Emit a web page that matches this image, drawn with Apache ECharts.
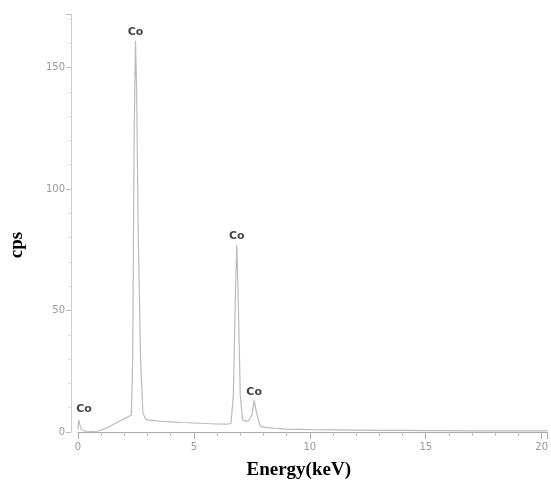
<!DOCTYPE html>
<html><head><meta charset="utf-8">
<script src="https://cdn.jsdelivr.net/npm/echarts@6/dist/echarts.min.js"></script>
<style>html,body{margin:0;padding:0;background:#fff}#c{width:551px;height:489px}</style>
</head><body><div id="c"></div>
<script>
const energy = [0, 0.03, 0.08, 0.15, 0.25, 0.4, 0.6, 0.8, 1.0, 1.2, 1.4, 1.6, 1.8, 2.0, 2.2, 2.3, 2.36, 2.42, 2.48, 2.53, 2.6, 2.7, 2.8, 2.9, 3.0, 3.5, 4.0, 4.5, 5.0, 5.5, 6.0, 6.4, 6.6, 6.7, 6.8, 6.85, 6.9, 7.0, 7.1, 7.2, 7.35, 7.5, 7.6, 7.7, 7.85, 8.0, 8.5, 9, 10, 11, 12, 13, 14, 15, 16, 17, 18, 19, 20, 20.25];
const cps    = [1, 5, 3, 1, 0.5, 0.3, 0.2, 0.3, 0.8, 1.5, 2.5, 3.5, 4.5, 5.5, 6.5, 7, 30, 120, 161, 140, 80, 30, 8, 5.5, 5, 4.5, 4.2, 3.9, 3.7, 3.5, 3.3, 3.2, 3.5, 15, 60, 77, 60, 15, 5, 4.5, 4.5, 7, 13, 8, 2.5, 2, 1.5, 1.2, 1, 0.9, 0.8, 0.7, 0.7, 0.6, 0.6, 0.5, 0.5, 0.5, 0.5, 0.5];
const peakEnergy = [0, 2.48, 6.85, 7.6];
const peakCps = [5, 161, 77, 13];
const peakLabels = ['Co', 'Co', 'Co', 'Co'];
const xTicks = [0, 5, 10, 15, 20];
const yTicks = [0, 50, 100, 150];

const chart = echarts.init(document.getElementById('c'));
chart.setOption({
  animation: false,
  grid: {left: 77, right: 0, top: 14, bottom: 57},
  xAxis: {
    type: 'value', min: 0, max: 20.25, interval: 5,
    name: 'Energy(keV)', nameLocation: 'middle', nameGap: 29,
    nameTextStyle: {fontFamily: 'Liberation Serif', fontWeight: 'bold', fontSize: 19, color: '#000', padding: [0, 28, 0, 0]},
    axisLine: {lineStyle: {color: '#aaa', width: 1}},
    axisTick: {show: true, inside: false, length: 7, lineStyle: {color: '#aaa'}},
    minorTick: {show: true, splitNumber: 5, length: 4, lineStyle: {color: '#bbb'}},
    axisLabel: {color: '#999', fontSize: 10, fontFamily: 'DejaVu Sans', margin: 10,
      formatter: v => xTicks.includes(v) ? String(v) : ''},
    splitLine: {show: false}
  },
  yAxis: {
    type: 'value', min: 0, max: 172, interval: 50, offset: 7,
    name: 'cps', nameLocation: 'middle', nameGap: 44, nameRotate: 90,
    nameTextStyle: {fontFamily: 'Liberation Serif', fontWeight: 'bold', fontSize: 19, color: '#000', padding: [0, 44, 0, 0]},
    axisLine: {show: true, onZero: false, lineStyle: {color: '#ccc', width: 1}},
    axisTick: {show: true, length: 5, lineStyle: {color: '#bbb'}},
    minorTick: {show: true, splitNumber: 5, length: 3, lineStyle: {color: '#ddd'}},
    axisLabel: {color: '#999', fontSize: 10, fontFamily: 'DejaVu Sans', margin: 6,
      formatter: v => yTicks.includes(v) ? String(v) : ''},
    splitLine: {show: false}
  },
  series: [
    {
      type: 'line', data: energy.map((e, i) => [e, cps[i]]),
      showSymbol: false, lineStyle: {color: '#bbb', width: 1.2}, z: 2
    },
    {
      type: 'scatter', symbolSize: 0,
      data: peakEnergy.map((e, i) => ({value: [e, peakCps[i]], name: peakLabels[i],
        label: i === 0 ? {offset: [6, -2]} : {}})),
      label: {show: true, position: 'top', distance: 3, formatter: p => p.name,
        color: '#111', fontWeight: 'bold', fontSize: 11, fontFamily: 'DejaVu Sans'},
      z: 3
    }
  ]
});
</script>
</body></html>
